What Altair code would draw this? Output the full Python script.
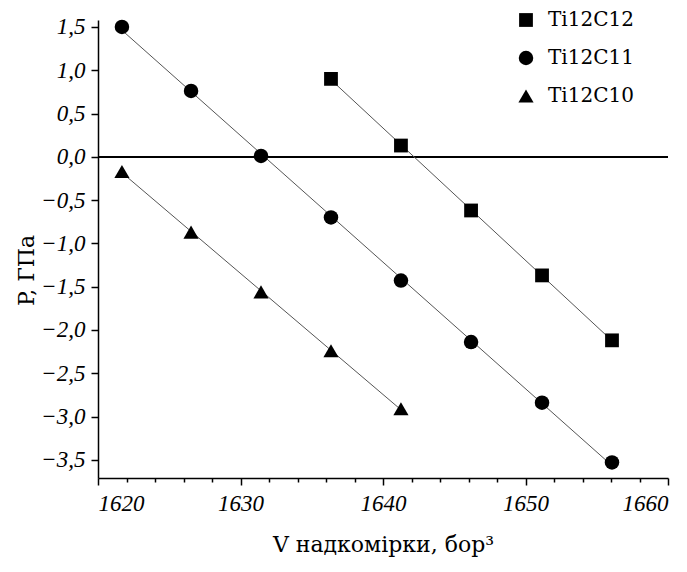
import altair as alt
import pandas as pd

# Data
series_names = ["Ti12C12", "Ti12C11", "Ti12C10"]

v_c12 = [1636.35, 1641.26, 1646.18, 1651.16, 1656.07]
p_c12 = [0.90, 0.13, -0.62, -1.37, -2.12]

v_c11 = [1621.68, 1626.53, 1631.44, 1636.35, 1641.26, 1646.18, 1651.16, 1656.07]
p_c11 = [1.50, 0.76, 0.01, -0.70, -1.43, -2.14, -2.84, -3.53]

v_c10 = [1621.68, 1626.53, 1631.44, 1636.35, 1641.26]
p_c10 = [-0.17, -0.87, -1.56, -2.24, -2.91]

x_ticks = [1620, 1622, 1624, 1626, 1628, 1630, 1632, 1634, 1636, 1638, 1640,
           1642, 1644, 1646, 1648, 1650, 1652, 1654, 1656, 1658, 1660]
y_ticks = [-3.5, -3.25, -3.0, -2.75, -2.5, -2.25, -2.0, -1.75, -1.5, -1.25,
           -1.0, -0.75, -0.5, -0.25, 0.0, 0.25, 0.5, 0.75, 1.0, 1.25, 1.5]

rows = []
for name, vs, ps in [("Ti12C12", v_c12, p_c12), ("Ti12C11", v_c11, p_c11), ("Ti12C10", v_c10, p_c10)]:
    for v, p in zip(vs, ps):
        rows.append({"V": v, "P": p, "series": name})
df = pd.DataFrame(rows)

FONT = "DejaVu Serif"
TICK_FONT = "Liberation Serif"

x_enc = alt.X(
    "V:Q",
    scale=alt.Scale(domain=[1620, 1660], nice=False, zero=False),
    axis=alt.Axis(
        values=x_ticks,
        labelExpr="datum.value % 10 == 0 ? format(datum.value, 'd') : ''",
        tickSize={"condition": {"test": "datum.value % 10 == 0", "value": 7}, "value": 4},
        title="V надкомірки, бор³",
        grid=False,
        labelPadding=7,
        titlePadding=19,
    ),
)
y_enc = alt.Y(
    "P:Q",
    scale=alt.Scale(domain=[-3.71, 1.58], nice=False, zero=False),
    axis=alt.Axis(
        values=y_ticks,
        labelExpr="abs(datum.value*2 - round(datum.value*2)) < 0.001 ? replace(format(datum.value, '.1f'), '.', ',') : ''",
        tickSize={"condition": {"test": "abs(datum.value*2 - round(datum.value*2)) < 0.001", "value": 7}, "value": 4},
        title="P, ГПа",
        grid=False,
        labelPadding=6,
        titleX=-72,
        titleY=250,
        titleAngle=270,
        titleAlign="center",
        titleBaseline="middle",
    ),
)

legend_def = alt.Legend(
    title=None,
    orient="none",
    legendX=418,
    legendY=-10,
    padding=0,
    symbolFillColor="black",
    symbolStrokeColor="black",
    labelFont=FONT,
    labelFontSize=20,
    labelColor="black",
    labelOffset=12,
    rowPadding=17,
)

base = alt.Chart(df)

zero_line = base.mark_rule(color="black", strokeWidth=1.5).encode(y=alt.datum(0))

fits = base.transform_regression("V", "P", groupby=["series"]).mark_line(
    color="#555555", strokeWidth=1
).encode(x=x_enc, y=y_enc, detail="series:N")

points = base.mark_point(filled=True, color="black", opacity=1).encode(
    x=x_enc,
    y=y_enc,
    size=alt.Size(
        "series:N",
        scale=alt.Scale(domain=series_names, range=[190, 230, 380]),
        legend=legend_def,
    ),
    shape=alt.Shape(
        "series:N",
        scale=alt.Scale(domain=series_names, range=["square", "circle", "triangle-up"]),
        legend=legend_def,
    ),
)

chart = alt.layer(zero_line, fits, points).properties(
    width=570,
    height=458,
    autosize=alt.AutoSizeParams(type="none"),
    padding={"left": 90, "top": 12, "right": 11, "bottom": 80},
).configure_view(stroke=None).configure_axis(
    domainColor="black",
    domainWidth=1.5,
    tickColor="black",
    tickWidth=1.5,
    labelFont=TICK_FONT,
    labelFontStyle="italic",
    labelFontSize=23,
    labelColor="black",
    titleFont=FONT,
    titleFontSize=22,
    titleFontWeight="normal",
    titleColor="black",
)

chart.save("out.html", embed_options={"renderer": "svg", "actions": False})
